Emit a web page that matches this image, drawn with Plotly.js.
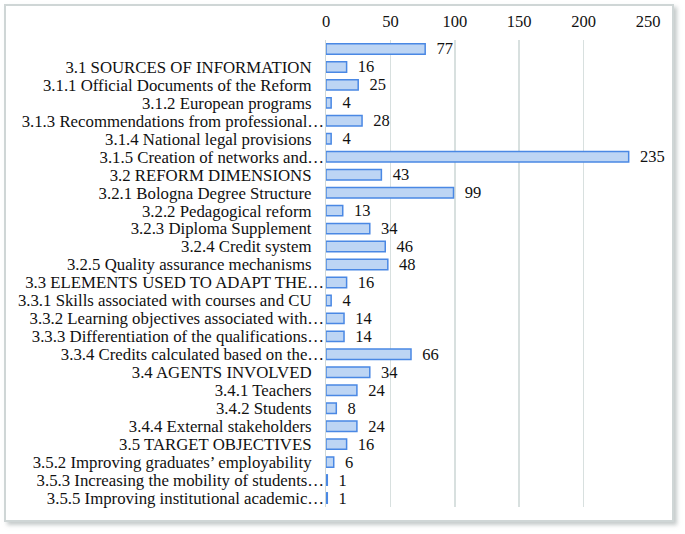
<!DOCTYPE html>
<html>
<head>
<meta charset="utf-8">
<script src="https://cdn.plot.ly/plotly-3.0.1.min.js"></script>
<style>
html, body { margin: 0; padding: 0; background: #ffffff; }
#wrap { position: relative; width: 685px; height: 534px; }
#chart { position: absolute; left: 0; top: 0; width: 685px; height: 534px; }
#frame { position: absolute; left: 4px; top: 4px; width: 666px; height: 514px;
  border: 2px solid #cfd6d6; box-shadow: 3px 3px 4px rgba(150,160,160,0.55); pointer-events: none; }
</style>
</head>
<body>
<div id="wrap">
<div id="chart"></div>
<div id="frame"></div>
</div>
<script>
const categories = [
  " ",
  "3.1 SOURCES OF INFORMATION",
  "3.1.1 Official Documents of the Reform",
  "3.1.2 European programs",
  "3.1.3 Recommendations from professional…",
  "3.1.4 National legal provisions",
  "3.1.5 Creation of networks and…",
  "3.2 REFORM DIMENSIONS",
  "3.2.1 Bologna Degree Structure",
  "3.2.2 Pedagogical reform",
  "3.2.3 Diploma Supplement",
  "3.2.4 Credit system",
  "3.2.5 Quality assurance mechanisms",
  "3.3 ELEMENTS USED TO ADAPT THE…",
  "3.3.1 Skills associated with courses and CU",
  "3.3.2 Learning objectives associated with…",
  "3.3.3 Differentiation of the qualifications…",
  "3.3.4 Credits calculated based on the…",
  "3.4 AGENTS INVOLVED",
  "3.4.1 Teachers",
  "3.4.2 Students",
  "3.4.4 External stakeholders",
  "3.5 TARGET OBJECTIVES",
  "3.5.2 Improving graduates’ employability",
  "3.5.3 Increasing the mobility of students…",
  "3.5.5 Improving institutional academic…"
];
const values = [77, 16, 25, 4, 28, 4, 235, 43, 99, 13, 34, 46, 48, 16, 4, 14, 14, 66, 34, 24, 8, 24, 16, 6, 1, 1];
const xTicks = [0, 50, 100, 150, 200, 250];

const pad = '\u00a0\u00a0\u00a0';
const tickText = categories.map(c => c.endsWith('…') ? c : c + pad);

const fnt = 'Liberation Serif';

const trace = {
  type: 'bar',
  orientation: 'h',
  y: categories,
  x: values,
  marker: { color: '#bdd5f4', line: { color: '#4a88e4', width: 1.5 } },
  text: values.map(v => '\u00a0\u00a0' + v),
  textposition: 'outside',
  constraintext: 'none',
  cliponaxis: false,
  textfont: { family: fnt, size: 16.5, color: '#111111' },
  hoverinfo: 'none'
};

const layout = {
  width: 685, height: 534,
  margin: { l: 326, r: 37, t: 40, b: 27 },
  paper_bgcolor: '#ffffff',
  plot_bgcolor: '#ffffff',
  bargap: 0.42,
  showlegend: false,
  font: { family: fnt, size: 16.5, color: '#111111' },
  xaxis: {
    side: 'top',
    range: [0, 250],
    tickvals: xTicks,
    ticktext: xTicks.map(String),
    showgrid: true,
    gridcolor: '#d8e0df',
    gridwidth: 1.5,
    zeroline: false,
    showline: false,
    ticks: '',
    ticklabelstandoff: 9,
    tickfont: { family: fnt, size: 16.5, color: '#111111' },
    fixedrange: true
  },
  yaxis: {
    type: 'category',
    categoryorder: 'array',
    categoryarray: categories,
    tickvals: categories,
    ticktext: tickText,
    autorange: 'reversed',
    showgrid: false,
    zeroline: false,
    showline: true,
    linecolor: '#d0d8d7',
    linewidth: 1.5,
    ticks: '',
    ticklabelstandoff: -3,
    tickfont: { family: fnt, size: 16.8, color: '#111111' },
    fixedrange: true
  }
};

Plotly.newPlot('chart', [trace], layout, { displayModeBar: false, staticPlot: true });
</script>
</body>
</html>
